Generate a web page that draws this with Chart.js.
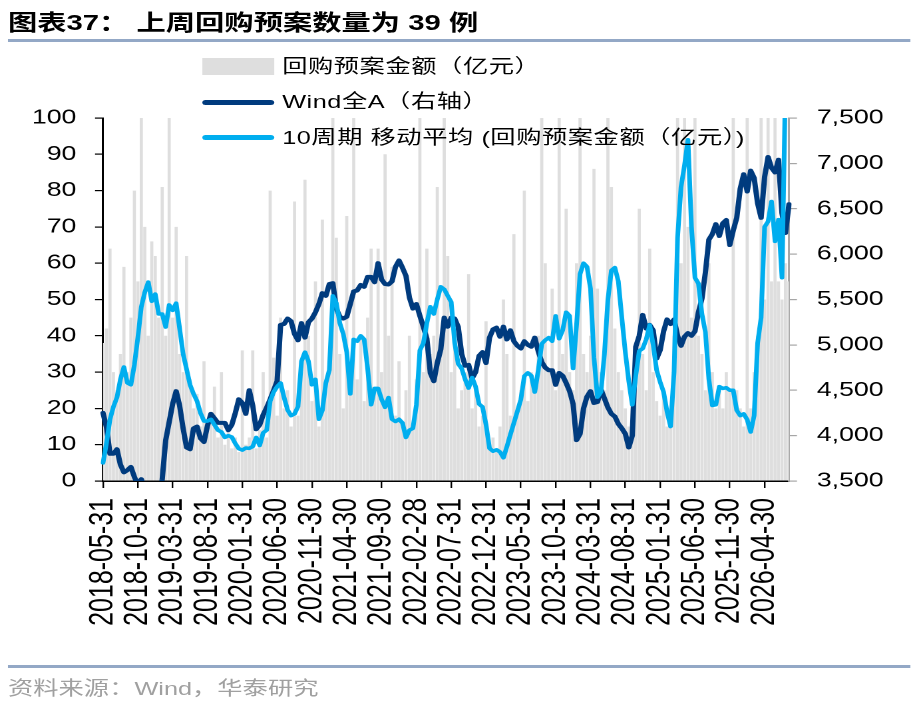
<!DOCTYPE html>
<html>
<head>
<meta charset="utf-8">
<script src="https://cdn.jsdelivr.net/npm/chart.js@4.4.1/dist/chart.umd.min.js"></script>
<style>
  html, body { margin: 0; padding: 0; background: #fff; width: 921px; height: 710px; overflow: hidden; }
  /* 原图整体横向拉伸，这里用 scaleX 还原 */
  #page { position: absolute; left: 0; top: 0; width: 692px; height: 710px;
          transform: scaleX(1.3309); transform-origin: 0 0;
          font-family: "Liberation Sans", "Noto Sans CJK SC", sans-serif; color: #000; }
  #title { position: absolute; left: 6px; top: 11px; font-size: 22px; line-height: 24px; font-weight: bold; white-space: nowrap; }
  .rule { position: absolute; left: 6px; width: 678px; height: 3px; background: #93a8c6; }
  #chartBox { position: absolute; left: 0; top: 0; width: 692px; height: 710px; }
  .lg { position: absolute; left: 212px; font-size: 19px; letter-spacing: 0.4px; line-height: 24px; white-space: nowrap; }
  .sw { position: absolute; left: 152px; width: 54px; }
  #source { position: absolute; left: 6px; top: 677px; font-size: 19px; line-height: 24px; color: #a0a0a0; white-space: nowrap; }
</style>
</head>
<body>
<div id="page">
  <div id="title">图表37： 上周回购预案数量为 39 例</div>
  <div class="rule" style="top:39px"></div>

  <div id="chartBox"><canvas id="chart"></canvas></div>

  <div class="sw" style="top:58px;height:17px;background:#dedede"></div>
  <div class="lg" style="top:55px">回购预案金额（亿元）</div>
  <div class="sw" style="top:100px;height:5px;border-radius:3px;background:#003b7e"></div>
  <div class="lg" style="top:90px">Wind全A（右轴）</div>
  <div class="sw" style="top:135px;height:5px;border-radius:3px;background:#00aeef"></div>
  <div class="lg" style="top:126px">10周期 移动平均 (回购预案金额（亿元）)</div>

  <div class="rule" style="top:665px"></div>
  <div id="source">资料来源：Wind，华泰研究</div>
</div>

<script>
// ===== 数据：半月一个点，2018-05-31 起
const START_YEAR = 2018, START_MONTH = 5;   // 5 = May

const tickLabels = [
  '2018-05-31', '2018-10-31', '2019-03-31', '2019-08-31', '2020-01-31',
  '2020-06-30', '2020-11-30', '2021-04-30', '2021-09-30', '2022-02-28',
  '2022-07-31', '2022-12-31', '2023-05-31', '2023-10-31', '2024-03-31',
  '2024-08-31', '2025-01-31', '2025-06-30', '2025-11-30', '2026-04-30'
];

// 回购预案金额（亿元），左轴
const buyback = [
  38, 42, 64, 30, 25, 35, 59, 30, 45, 80,
  55, 100, 70, 40, 66, 62, 45, 81, 40, 100,
  45, 70, 35, 30, 62, 28, 20, 24, 15, 33,
  14, 18, 26, 12, 30, 10, 14, 9, 12, 8,
  36, 10, 12, 36, 9, 14, 30, 12, 80, 34,
  18, 45, 20, 25, 15, 77, 18, 30, 83, 40,
  22, 55, 15, 72, 25, 30, 100, 67, 35, 20,
  73, 30, 100, 28, 40, 22, 45, 64, 25, 64,
  30, 90, 40, 59, 18, 33, 15, 25, 40, 15,
  28, 100, 30, 64, 35, 40, 81, 35, 100, 62,
  30, 40, 20, 25, 30, 57, 20, 25, 15, 18,
  44, 10, 12, 8, 15, 50, 35, 18, 68, 20,
  25, 80, 22, 30, 25, 40, 100, 60, 30, 53,
  25, 100, 35, 75, 30, 25, 60, 100, 35, 30,
  40, 86, 53, 30, 25, 100, 81, 42, 30, 25,
  20, 15, 20, 30, 75, 35, 25, 64, 30, 22,
  18, 25, 15, 20, 40, 100, 60, 100, 70, 45,
  100, 40, 35, 25, 60, 30, 20, 25, 20, 30,
  25, 100, 25, 20, 15, 100, 20, 30, 40, 100,
  50, 100, 55, 100, 55, 50, 60, 55
];

// Wind全A，右轴
const windA = [
  4250, 4090, 3800, 3800, 3850, 3680, 3595, 3620, 3655, 3545,
  3460, 3520, 3420, 3300, 3250, 3200, 3280, 3520, 3950, 4150,
  4350, 4490, 4330, 4080, 3870, 3850, 4080, 4100, 3970, 3930,
  4110, 4240, 4190, 4140, 4140, 4140, 4060, 4120, 4250, 4400,
  4360, 4240, 4500, 4330, 4070, 4120, 4230, 4310, 4400, 4500,
  4600, 5220, 5230, 5290, 5260, 5120, 5050, 5240, 5080, 5250,
  5290, 5360, 5450, 5570, 5540, 5670, 5680, 5400, 5310, 5290,
  5310, 5450, 5590, 5600, 5660, 5640, 5750, 5750, 5690, 5900,
  5720, 5670, 5665, 5700, 5860, 5930, 5850, 5760, 5520, 5400,
  5450, 5320, 5200, 5070, 4690, 4600, 4800, 4950, 5300, 5200,
  5300, 5290, 5200, 4900, 4770, 4780, 4630, 4700, 4880, 4920,
  4800, 5080, 5170, 5190, 5090, 5200, 5060, 5160, 5040, 4990,
  4960, 5040, 5000, 4980, 5080, 4930, 4810, 4750, 4720, 4720,
  4560, 4690, 4660, 4580, 4490, 4350, 3950, 4020, 4300, 4430,
  4490, 4360, 4370, 4510, 4410, 4310, 4240, 4210, 4130, 4080,
  4020, 3870, 4000, 4980, 5100, 5330, 5180, 5220, 5160, 4850,
  4940, 5150, 5280, 5230, 5280, 5100, 4990, 5090, 5130, 5100,
  5150, 5360, 5510, 5800, 6160, 6220, 6330, 6200, 6340, 6376,
  6100, 6260, 6400, 6720, 6880, 6690, 6920, 6840, 6560, 6400,
  6850, 7070, 6950, 6900, 7040, 6450, 6233, 6550
];

// 10周期移动平均，左轴
const ma10 = [
  5, 10.5, 17, 20.5, 23, 28, 31.4, 27, 26.5, 32,
  39.5, 48, 52, 54.8, 49.5, 51.5, 46, 46, 42.4, 48.5,
  47, 49, 42, 35, 30.8, 26.5, 24, 22, 18.7, 16.5,
  16.5, 17, 15.5, 14, 13.5, 12, 12.5, 12.1, 10.3, 8.9,
  8.5, 9.1, 9, 9.5, 12, 9.8, 13.3, 14, 22, 24.5,
  26, 27, 23, 19.6, 18, 18.5, 20.5, 33, 35.5, 33,
  26.5, 28, 17, 19.5, 27, 30.6, 51, 49, 43.5, 40.5,
  35.5, 24, 39, 38.5, 40, 39, 31, 21, 25.5, 25.5,
  22.5, 20.3, 23, 17, 16.4, 17, 16, 12, 14, 14.5,
  21, 36, 38, 43.5, 48, 46, 50, 53.5, 52.8, 51,
  49.3, 38, 32.3, 31, 28, 25.6, 28.5, 26, 21.2, 20.4,
  15.5, 9, 8.2, 8.6, 8, 6.4, 9.5, 12.8, 16, 19.2,
  22.5, 28.9, 29.8, 29, 24.5, 30.5, 37.8, 38.8, 39.5, 38.5,
  45.5, 39.2, 41.5, 46.5, 45.5, 31, 43, 57, 60, 59,
  53, 34, 23.1, 24.5, 35, 50, 58, 58.8, 55, 45,
  35.5, 27.5, 21, 29, 35.8, 36.5, 39, 43, 37.5, 30.5,
  27.3, 24.5, 19, 15, 30, 67, 81, 87, 94, 70,
  56, 54.4, 46, 41, 28, 20.8, 21, 26, 25.5, 25.7,
  25, 25, 19.5, 18, 18.5, 16.9, 13.5, 18, 38, 45,
  70, 71.5, 77, 66, 72, 56, 110, 110
];

// ===== 日期类别：偶数点月末，奇数点下个月 15 号
const pad = (n) => String(n).padStart(2, '0');
const dates = buyback.map((_, i) => {
  if (i % 2 === 0) {
    const m0 = START_MONTH - 1 + i / 2;
    const y = START_YEAR + Math.floor(m0 / 12);
    const m = (m0 % 12) + 1;
    return `${y}-${pad(m)}-${pad(new Date(y, m, 0).getDate())}`;
  }
  const m0 = START_MONTH + Math.floor(i / 2);
  const y = START_YEAR + Math.floor(m0 / 12);
  return `${y}-${pad((m0 % 12) + 1)}-15`;
});

const FONT = '"Liberation Sans", Arial, sans-serif';

new Chart(document.getElementById('chart'), {
  type: 'bar',
  data: {
    labels: dates,
    datasets: [
      { type: 'line', label: '10周期 移动平均 (回购预案金额（亿元）)', data: ma10, yAxisID: 'y',
        borderColor: '#00aeef', borderWidth: 3.5, pointRadius: 0, tension: 0,
        borderJoinStyle: 'round', borderCapStyle: 'round', order: 0 },
      { type: 'line', label: 'Wind全A（右轴）', data: windA, yAxisID: 'y1',
        borderColor: '#003b7e', borderWidth: 4, pointRadius: 0, tension: 0,
        borderJoinStyle: 'round', borderCapStyle: 'round', order: 1 },
      { type: 'bar', label: '回购预案金额（亿元）', data: buyback, yAxisID: 'y',
        backgroundColor: '#dedede', borderWidth: 0,
        barPercentage: 1, categoryPercentage: 0.9, order: 2 }
    ]
  },
  options: {
    responsive: true,
    maintainAspectRatio: false,
    animation: false,
    devicePixelRatio: 2,
    layout: { padding: { top: 118, left: 0, right: 0, bottom: 0 } },
    plugins: { legend: { display: false }, tooltip: { enabled: false } },
    scales: {
      x: {
        type: 'category',
        offset: false,
        grid: { offset: false, drawOnChartArea: false, drawTicks: true, tickLength: 7, color: '#000', lineWidth: 1.2 },
        border: { display: true, color: '#000', width: 1.5 },
        ticks: {
          autoSkip: false, minRotation: 90, maxRotation: 90, padding: 10,
          color: '#000', font: { family: FONT, size: 25 },
          callback: (v) => tickLabels.includes(dates[v]) ? dates[v] : null
        },
        afterFit: (s) => { s.height = 229; }
      },
      y: {
        position: 'left', min: 0, max: 100,
        grid: { drawOnChartArea: false, tickLength: 6, color: '#000', lineWidth: 1.2 },
        border: { display: true, color: '#000', width: 1.5 },
        ticks: { stepSize: 10, padding: 14, color: '#000', font: { family: FONT, size: 20 } },
        afterFit: (s) => { s.width = 77.4; }
      },
      y1: {
        position: 'right', min: 3500, max: 7500,
        grid: { drawOnChartArea: false, tickLength: 6, color: '#a6a6a6', lineWidth: 1.2 },
        border: { display: true, color: '#a6a6a6', width: 1.5 },
        ticks: { stepSize: 500, padding: 15, color: '#000', font: { family: FONT, size: 20 },
                 callback: (v) => v.toLocaleString('en-US') },
        afterFit: (s) => { s.width = 99.2; }
      }
    }
  }
});
</script>
</body>
</html>
